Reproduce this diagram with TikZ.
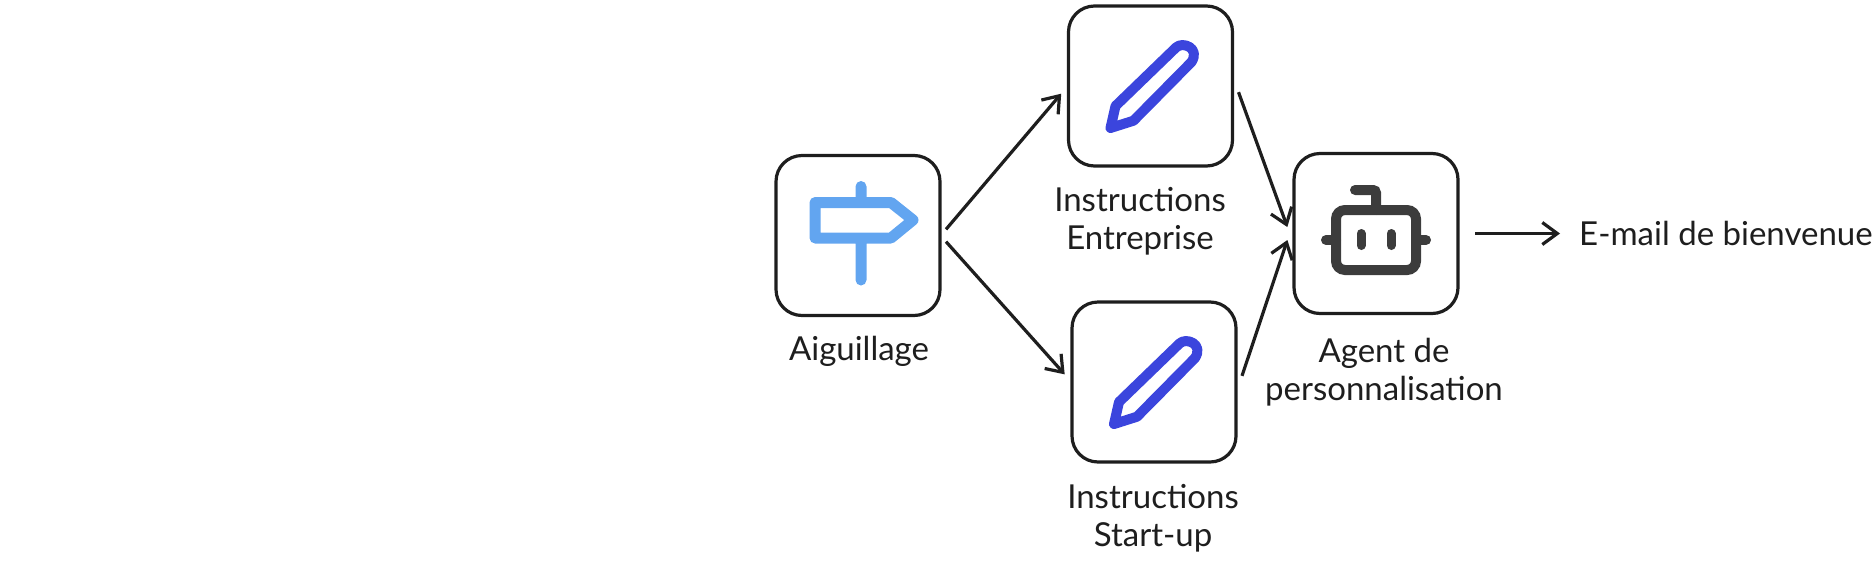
\documentclass[tikz,border=0pt]{standalone}
\usepackage{fontspec}
\setmainfont{Lato}
\usetikzlibrary{arrows.meta}
\definecolor{ink}{HTML}{1E1E1E}
\definecolor{signblue}{HTML}{62A5F0}
\definecolor{penblue}{HTML}{3B45DD}
\definecolor{botgrey}{HTML}{3C3C3C}
\tikzset{
	box/.style={draw=ink, line width=3.2pt, rounded corners=26pt, minimum width=164pt, minimum height=160pt, inner sep=0pt, outer sep=6pt},
	lab/.style={text=ink, align=center, inner sep=0pt, font=\fontsize{33}{38}\selectfont},
	link/.style={draw=ink, line width=3.2pt, shorten >=2pt, -{Straight Barb[length=15pt,width=22pt,line width=3.2pt]}},
	signicon/.pic={
		\draw[signblue, line width=11pt, line join=round, line cap=round]
			(-43,-33) -- (33,-33) -- (55,-15.5) -- (33,2.5) -- (-43,2.5) -- cycle
			(3,-49) -- (3,-33) (3,2.5) -- (3,44.5);
	},
	penicon/.pic={
		\draw[penblue, line width=10pt, line join=round]
			(-40,42) -- (-35,20) -- (25.5,-38.5) .. controls (32,-45) and (50,-38) .. (41,-24) -- (-17,34.7) -- cycle;
	},
	boticon/.pic={
		\draw[botgrey, line width=10pt, rounded corners=9pt] (-40,-23.5) rectangle (40,36.5);
		\draw[botgrey, line width=10pt, line cap=round, rounded corners=3pt] (0,-23.5) -- (0,-43.5) -- (-21,-43.5);
		\draw[botgrey, line width=10pt, line cap=round] (-40,6.5) -- (-50,6.5) (40,6.5) -- (50,6.5);
		\draw[botgrey, line width=9pt, line cap=round] (-15,0) -- (-15,12) (15,0) -- (15,12);
	}
}
\begin{document}
\begin{tikzpicture}[x=1pt, y=-1pt]
	\useasboundingbox (0,0) rectangle (1873,560);

	\node[box] at (858, 235.5) (R) {};
	\node[box] at (1150.5, 86) (IE) {};
	\node[box] at (1154, 382) (IS) {};
	\node[box] at (1376, 233.5) (A) {};

	\pic at (R) {signicon};
	\pic at (IE) {penicon};
	\pic at (IS) {penicon};
	\pic at (A) {boticon};

	\node[lab] at (859, 351) (LR) {Aiguillage};
	\node[lab] at (1140, 221) (LE) {Instructions\\Entreprise};
	\node[lab] at (1153, 518) (LS) {Instructions\\Start-up};
	\node[lab] at (1384, 372) (LA) {Agent de\\personnalisation};
	\node[lab, anchor=west] at (1579, 233.5) (M) {E-mail de bienvenue};

	\draw[link] (R.4) -- (IE.184);
	\draw[link] (R.-4) -- (IS.176);
	\draw[link] (IE.-4) -- (A.177);
	\draw[link] (IS.4) -- (A.183);
	\draw[link, shorten <=11pt, shorten >=19pt] (A.east) -- (M.west);
\end{tikzpicture}
\end{document}
